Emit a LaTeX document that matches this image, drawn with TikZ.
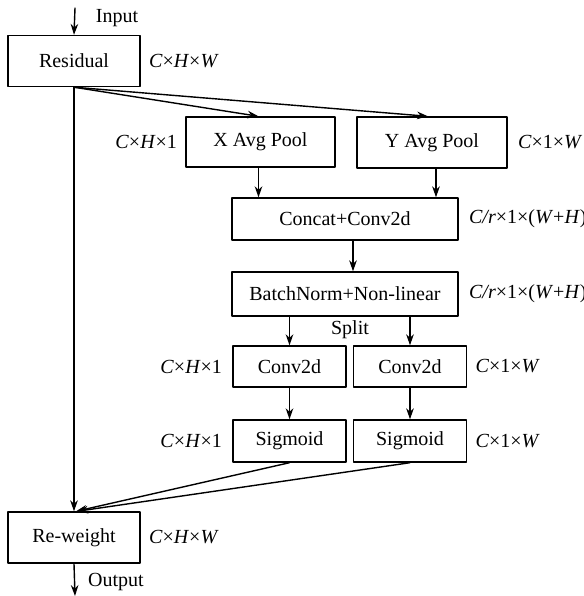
\documentclass[tikz,border=0pt]{standalone}
\usepackage{fontspec}
\setmainfont{Liberation Serif}
\usetikzlibrary{arrows.meta,positioning}

\tikzset{
  blk/.style={draw, line width=0.7pt, inner sep=0pt},
  dimlbl/.style={inner sep=0pt},
  flow/.style={line width=0.7pt, -{Stealth[length=5.5pt,width=3.8pt]}},
}

\begin{document}
\begin{tikzpicture}[x=0.5pt, y=-0.5pt, line cap=round, line join=round]
    \useasboundingbox (0,0) rectangle (584,596);
    % blocks
    \node[blk, minimum width=66pt, minimum height=25.5pt] (res) at (74,61) {Residual};
    \node[blk, minimum width=74.5pt, minimum height=25pt] (xpool) at (260.5,142) {X Avg Pool};
    \node[blk, minimum width=75pt, minimum height=25.5pt] (ypool) at (432,142.5) {Y Avg Pool};
    \node[blk, minimum width=113pt, minimum height=21pt] (concat) at (345,219) {Concat+Conv2d};
    \node[blk, minimum width=113pt, minimum height=22pt] (bn) at (345,294) {BatchNorm+Non-linear};
    \node[blk, minimum width=56.5pt, minimum height=20.5pt] (convx) at (289.5,366.5) {Conv2d};
    \node[blk, minimum width=56.5pt, minimum height=20.5pt] (convy) at (410,366.5) {Conv2d};
    \node[blk, minimum width=56.5pt, minimum height=21pt] (sigx) at (289.5,441) {Sigmoid};
    \node[blk, minimum width=56.5pt, minimum height=21pt] (sigy) at (410,441) {Sigmoid};
    \node[blk, minimum width=66pt, minimum height=25.5pt] (rw) at (74,537.5) {Re-weight};
    \coordinate (in) at (75,8);
    \coordinate (out) at (75,596);

    % tensor sizes
    \node[dimlbl, right=4pt of res] (resdim) {\textit{C}×\textit{H}×\textit{W}};
    \node[dimlbl, left=4pt of xpool] (xpooldim) {\textit{C}×\textit{H}×1};
    \node[dimlbl, right=5pt of ypool] (ypooldim) {\textit{C}×1×\textit{W}};
    \node[dimlbl, right=5pt of concat] (concatdim) {\textit{C/r}×1×(\textit{W}+\textit{H})};
    \node[dimlbl, right=5pt of bn] (bndim) {\textit{C/r}×1×(\textit{W}+\textit{H})};
    \node[dimlbl, left=5pt of convx] (convxdim) {\textit{C}×\textit{H}×1};
    \node[dimlbl, right=4pt of convy] (convydim) {\textit{C}×1×\textit{W}};
    \node[dimlbl, left=5pt of sigx] (sigxdim) {\textit{C}×\textit{H}×1};
    \node[dimlbl, right=4pt of sigy] (sigydim) {\textit{C}×1×\textit{W}};
    \node[dimlbl, right=4pt of rw] (rwdim) {\textit{C}×\textit{H}×\textit{W}};

    \node[dimlbl] (intxt) at (117,18) {Input};
    \node[dimlbl] (outtxt) at (116,582) {Output};
    \node[dimlbl] (split) at (350,330) {Split};

    % connectors
    \draw[flow] (in) -- (res.north);
    \draw[flow] (res.south) -- ([xshift=-1pt]xpool.north);
    \draw[flow] (res.south) -- ([xshift=-2pt]ypool.north);
    \draw[flow] ([xshift=-1pt]xpool.south) -- ([xshift=-1pt]xpool.south |- concat.north);
    \draw[flow] ([xshift=2pt]ypool.south) -- ([xshift=2pt]ypool.south |- concat.north);
    \draw[flow] ([xshift=4pt]concat.south) -- ([xshift=4pt]bn.north);
    \draw[flow] (bn.south -| convx.north) -- (convx.north);
    \draw[flow] (bn.south -| convy.north) -- (convy.north);
    \draw[flow] (convx.south) -- (sigx.north);
    \draw[flow] (convy.south) -- (sigy.north);
    \draw[flow] (res.south) -- (rw.north);
    \draw[flow] (sigx.south) -- ([xshift=1pt]rw.north);
    \draw[flow] (sigy.south) -- ([xshift=1.5pt]rw.north);
    \draw[flow] (rw.south) -- (out);
\end{tikzpicture}
\end{document}
